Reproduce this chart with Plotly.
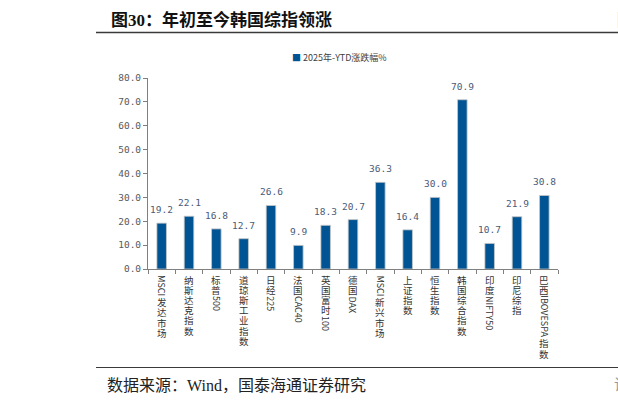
import plotly.graph_objects as go

# ---------------- data ----------------
categories = ["MSCI发达市场", "纳斯达克指数", "标普500", "道琼斯工业指数", "日经225",
              "法国CAC40", "英国富时100", "德国DAX", "MSCI新兴市场", "上证指数",
              "恒生指数", "韩国综合指数", "印度NIFTY50", "印尼综指", "巴西IBOVESPA指数"]
values = [19.2, 22.1, 16.8, 12.7, 26.6, 9.9, 18.3, 20.7, 36.3, 16.4, 30.0, 70.9, 10.7, 21.9, 30.8]
series_name = "2025年-YTD涨跌幅%"
y_ticks = [0, 10, 20, 30, 40, 50, 60, 70, 80]
title_text = "图30：年初至今韩国综指领涨"
source_text = "数据来源：Wind，国泰海通证券研究"

# ---------------- layout constants ----------------
W, H = 618, 405
L, R, T, B = 148, 60, 78, 136
PW, PH = W - L - R, H - T - B
BAR_COLOR = "#005493"
CJK = "Noto Sans CJK SC"
SERIF = "Liberation Serif, Noto Sans CJK SC"


def px(x):
    return (x - L) / PW


def py(y):
    return (H - B - y) / PH


fig = go.Figure()
fig.add_trace(go.Bar(
    x=categories, y=values, name=series_name,
    marker=dict(color=BAR_COLOR, line=dict(color="#C8C8C8", width=0.8)),
    showlegend=False,
))

annotations = []
# data labels
for c, v in zip(categories, values):
    annotations.append(dict(
        x=c, y=v, xref="x", yref="y", text=f"{v:.1f}", showarrow=False,
        yanchor="bottom", xanchor="center", yshift=6, borderpad=1,
        font=dict(family="DejaVu Sans Mono", size=9.5, color="#4A5B78"),
    ))

# vertical category labels (CJK upright, latin rotated)
LAT_FS = 9
CJK_FS = 9.5
CJK_STEP = 10.2
wtab = {"I": 0.27, "M": 0.89, "S": 0.55, "C": 0.63, "A": 0.64, "D": 0.71, "X": 0.6,
        "N": 0.75, "F": 0.52, "T": 0.55, "Y": 0.55, "B": 0.65, "O": 0.78, "V": 0.6,
        "E": 0.56, "P": 0.6}


def split_pieces(label):
    out, buf = [], ""
    for ch in label:
        if ord(ch) > 0x2E80:
            if buf:
                out.append((buf, False))
                buf = ""
            out.append((ch, True))
        else:
            buf += ch
    if buf:
        out.append((buf, False))
    return out


for c in categories:
    cum = 5.5
    for txt, is_cjk in split_pieces(c):
        if is_cjk:
            h = CJK_STEP
            annotations.append(dict(
                x=c, y=0, xref="x", yref="y", text=txt, showarrow=False,
                xanchor="center", yanchor="middle", yshift=-(cum + h / 2), borderpad=0,
                font=dict(family=CJK, size=CJK_FS, color="#333333"),
            ))
        else:
            h = sum(wtab.get(ch, 0.57) for ch in txt) * LAT_FS + 1.5
            annotations.append(dict(
                x=c, y=0, xref="x", yref="y", text=txt, showarrow=False, textangle=90,
                xanchor="center", yanchor="middle", yshift=-(cum + h / 2), borderpad=0,
                font=dict(family=CJK, size=LAT_FS, color="#333333"),
            ))
        cum += h

# title, legend, source
annotations += [
    dict(x=px(109), y=py(20), xref="paper", yref="paper", xanchor="left", yanchor="middle",
         text=f"<b>{title_text}</b>", showarrow=False, font=dict(family=SERIF, size=17, color="#111111")),
    dict(x=px(615), y=py(20), xref="paper", yref="paper", xanchor="left", yanchor="middle",
         text="<b>图31</b>", showarrow=False, font=dict(family=SERIF, size=17, color="#111111")),
    dict(x=px(290), y=py(58), xref="paper", yref="paper", xanchor="left", yanchor="middle",
         text=f"<span style='color:{BAR_COLOR}'>■</span> {series_name}", showarrow=False,
         font=dict(family=CJK, size=9, color="#404040")),
    dict(x=px(105), y=py(385), xref="paper", yref="paper", xanchor="left", yanchor="middle",
         text=source_text, showarrow=False, font=dict(family=SERIF, size=16, color="#222222")),
    dict(x=px(612), y=py(385), xref="paper", yref="paper", xanchor="left", yanchor="middle",
         text="请务必阅读", showarrow=False, font=dict(family=SERIF, size=15, color="#999999")),
]

shapes = [
    dict(type="line", xref="paper", yref="paper", x0=px(96), x1=px(620), y0=py(32.5), y1=py(32.5),
         line=dict(color="#3A3A3A", width=1.5)),
    dict(type="line", xref="paper", yref="paper", x0=px(96), x1=px(620), y0=py(367.5), y1=py(367.5),
         line=dict(color="#3A3A3A", width=1.2)),
]

fig.update_layout(
    width=W, height=H, margin=dict(l=L, r=R, t=T, b=B, autoexpand=False),
    paper_bgcolor="white", plot_bgcolor="white",
    bargap=0.65, showlegend=False,
    annotations=annotations, shapes=shapes,
    xaxis=dict(type="category", range=[-0.5, len(categories) - 0.5], showline=True,
               linecolor="#808080", linewidth=1, ticks="outside", ticklen=4, tickcolor="#808080",
               tickson="boundaries", showticklabels=False, showgrid=False, fixedrange=True),
    yaxis=dict(range=[0, 80], tickvals=y_ticks, ticktext=[f"{v:.1f}" for v in y_ticks],
               showline=True, linecolor="#808080", linewidth=1, ticks="outside", ticklen=4,
               tickcolor="#808080", showgrid=False, zeroline=False, automargin=False,
               tickfont=dict(family="DejaVu Sans Mono", size=9.5, color="#595959")),
)

fig.write_html("out.html")
